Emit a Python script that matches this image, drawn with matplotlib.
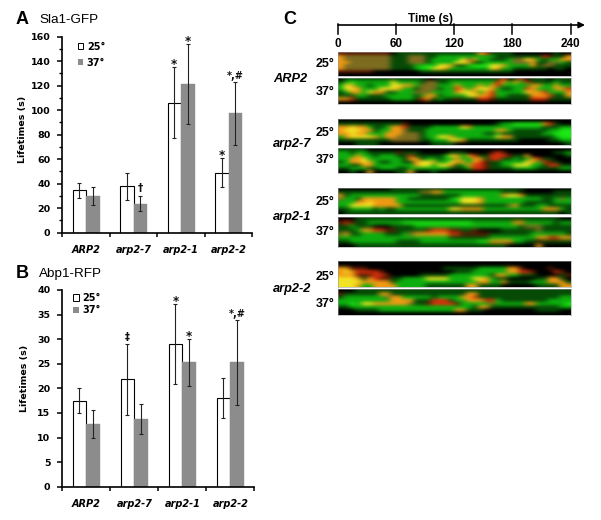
import numpy as np
import matplotlib
matplotlib.use("Agg")
import matplotlib.pyplot as plt
from matplotlib.patches import Patch
from matplotlib.colors import to_rgb

W = 601
H = 520

categories = ["ARP2", "arp2-7", "arp2-1", "arp2-2"]
temps = ["25°", "37°"]

sla_25 = [34.6, 38, 106, 49]
sla_37 = [30, 23.7, 121.4, 97.4]
sla_25_err = [6, 11, 29, 12]
sla_37_err = [7, 6, 33, 26]
sla_marks = [("*", 2, 0), ("*", 2, 1), ("*", 3, 0), ("*,#", 3, 1), ("†", 1, 1)]

abp_25 = [17.5, 21.8, 29, 18]
abp_37 = [12.8, 13.8, 25.3, 25.3]
abp_25_err = [2.6, 7.2, 8.1, 4.1]
abp_37_err = [2.8, 3.1, 4.8, 8.7]
abp_marks = [("*", 2, 0), ("*", 2, 1), ("*,#", 3, 1), ("‡", 1, 0)]

time_ticks = [0, 60, 120, 180, 240]

# kymograph colours, one letter per 6 s
kymo_colors = {"k": "#000000", "d": "#064a06", "g": "#0eae0e", "l": "#1ce814", "m": "#7c6c20",
               "y": "#f2e424", "o": "#f09a14", "r": "#d82e0c", "b": "#5a1905"}

arp2_25 = ["bbbbbbbbbkddddddddddddddorddddkkkkkkkdkk",
           "ommmmmmmmdddmmmddggggggggggddddddddrbddo",
           "ommmmmmmmdddmmmdgggggymoggdddgmmyogdggoo",
           "oommmmmmmdddmmmdggggyyoddgggggmmmoddmmgd",
           "ommmmmmmmddddgglgyyoddglllyyoggggodmmddd",
           "ommmmmmmmddddgllyyogggggggyoggddddddkddk",
           "bbbbbbkkkkkkkkddddddddddddddddkkkkkkkkkk",
           "kkkkkkkkkkkkkkkkkkkkkkkkkkkkkkkkkkkkkkkk"]
arp2_37 = ["kddddddddddddddkkdddddddddddrkdrkdddkddd",
           "dglggggggyggggdmmddggggggggrogogrddddgdd",
           "gyoggdgggyyoogmmmgggogggogorgggggooggogg",
           "gyyogggyyyoggdmmmdggrogoyyogddggrogggoor",
           "dgoogyooddgggmmmggggoyyogorgggggyoorgggo",
           "dddggdddgggggdgoodggggyyoorggddddooorddo",
           "oorddddddggggdrodgddbdddrrbddddddrrrdddd",
           "kkkkkkkkkkkkkkkkkkkkkkkkkkkkkkkkkkkkkkkk"]
arp27_25 = ["kkkkkkkkkkkkkkkkkkkkkkkkkkkkkkkkkkkkkkkk",
            "dddddddddddbkkkkkkkkkkkkkkkdgglllllordkk",
            "ooyoogddgoorddddgggggyoggggggggggggdddgg",
            "oyyyoodggoomdddggggggggggggoogddddddggll",
            "ooyoogggooommmdggggggggggddgdddddddgglll",
            "goyyyyogoommmmdggyyogggggggyoodddddddgll",
            "dddddddddmmmmmddgggyyodddddddddkkkkkddgg",
            "kkkddddkkkkkkkkkddddkkkkkkkkkkkkkkkkkkkd"]
arp27_37 = ["dddddkkkkkkkkkkkkkkkkkkkkkkkkkkkkkkkkkkk",
            "ggdggdddddbdddkkkkkdddkkkkbrbkkkkkkkkddg",
            "gggoggdgggddrdddddgyogorddrrrbddokkkkkkd",
            "ggooyggggggdoodggdggoggoodrrddgdgorddkkk",
            "dgooyogddggddoyyoggyoogorbddggggyogrbdkk",
            "ggddoogggggggoyygyyodgorrbddggyyyggdrrdd",
            "ddgggddgggddgggggggdddgrrbddddggggddddgg",
            "kkdkkokkkkddokkkdkkkkkkkkkkkkkkkkkkkkkkk"]
arp21_25 = ["kkkkkkkkkdddddddddddddddddddddddkkkkkkkk",
            "ddddddddddddddmmooggggggggggdddkkkkkkddd",
            "odggggggggggggdddddddgggggggoyyodddddddd",
            "mggdooooooggdddddddglyyyoggggggggggddgmg",
            "gggooyoooogggggggggggyyyogggggggdddddggg",
            "ggyyyyoooooddddddddddddddddddmodddggdddd",
            "ddggggdgddgggggggggyyooooggggggggggooogd",
            "kdddddddddddddddddddddddddddddddddddddkd"]
arp21_37 = ["kkkdddddddddddddddddddddddddddddddddddkk",
            "brbddggggggllllllllllllgggggggoogggggdgg",
            "ddgdddkkkddddggggggggggggggggggdmmmddddd",
            "dddgoorrbbdddddbrrrbbddbkkkkddddddmddddd",
            "moddggggdddgmoooooorrbbbbbdddddddggggggd",
            "gggggggggggggggggggdddddddggggggggoorroog",
            "ddggggggggddddggggggggggllooooggddkddddd",
            "kkkddddddddddddddddddddddddddkkkkkokkkkk"]
arp22_25 = ["kkkkkkkkkkkkkkkkkkkkkkkkkkkkkkkkkkkkkkkk",
            "kkkkkkkkkkkkkkkkkkkkkkkkkkkkkkkkkkkkkkkk",
            "oobbbkkkkkkkkkkkkkddddddgggggoobkkkkbkkk",
            "oyorrrrbkkkkkkkkkkkkdddggggggoorrbkkkrbk",
            "ooobbbrrbkkkkkdddddgggggggdooggdddkkkkdb",
            "yyyodorbbddggggyyyyggggyyogddkkkkkddoodk",
            "yyyyooooodggggggggggggggooggoddddgggoood",
            "yyyoggoooogggggdddddddooddddkkkkkkddddoo"]
arp22_37 = ["kkkddddddddddddddddddddddddddddddddddddd",
            "bddddddoodddddddddddddooddddddddddddddd",
            "dgggggggmoogggggdggggoorddddddddddddddgg",
            "gggggggggoooodddrrrdggooorrgddddddddgggg",
            "gglgyyoooooomddbrrrrbgggggmgggggoogggggl",
            "ddgggggggggggggggggggggdooddddddddddddgg",
            "kkkddddgggggggggggggoodddkkkkkkkkkddddkk",
            "kkkkkkkkkkkkkkkkkkkkkkkkkkkkkkkkkkkkkkkk"]

kymos = [arp2_25, arp2_37, arp27_25, arp27_37, arp21_25, arp21_37, arp22_25, arp22_37]
kymo_tops = [52, 78, 119, 148, 188, 217, 261, 289]
kymo_bottoms = [76, 104, 145, 173, 214, 247, 287, 315]
temp_label_y = [64, 92, 133, 160, 202, 232, 277, 304]
gene_label_y = [79, 144, 217, 289]

# how far above the error bar each mark sits, in pixels
mark_dy = {"*": 2.5, "*,#": 5.5, "†": 8, "‡": 7}
mark_size = {"*": 8.5, "*,#": 7, "†": 7.5, "‡": 7}


def px_axes(fig, left, top, right, bottom):
    return fig.add_axes([left / W, 1 - bottom / H, (right - left) / W, (bottom - top) / H])


def px_text(fig, x, y, s, **kw):
    kw.setdefault("ha", "left")
    kw.setdefault("va", "center")
    fig.text(x / W, 1 - y / H, s, **kw)


def barPanel(ax, vals_a, vals_b, err_a, err_b, marks, ymax, step, minor):
    x = np.arange(len(categories))
    w = 0.285
    ax.bar(x - w / 2, vals_a, w, color="white", edgecolor="black", linewidth=0.8)
    ax.bar(x + w / 2, vals_b, w, color="#8c8c8c", edgecolor="#8c8c8c", linewidth=0.3)
    ax.errorbar(x - w / 2, vals_a, yerr=err_a, fmt="none", ecolor="#222222", elinewidth=0.8, capsize=1.5, capthick=0.8)
    ax.errorbar(x + w / 2, vals_b, yerr=err_b, fmt="none", ecolor="#222222", elinewidth=0.8, capsize=1.5, capthick=0.8)
    for txt, i, j in marks:
        top = (vals_a[i] + err_a[i]) if j == 0 else (vals_b[i] + err_b[i])
        ax.annotate(txt, (i + (j - 0.5) * w, top), xytext=(0, mark_dy[txt] * 0.72), textcoords="offset points",
                    ha="center", va="center", fontsize=mark_size[txt], fontweight="bold", color="#111111",
                    annotation_clip=False)
    ax.set_xlim(-0.5, 3.5)
    ax.set_ylim(0, ymax)
    ax.set_yticks(np.arange(0, ymax + 1, step))
    if minor:
        ax.set_yticks(np.arange(0, ymax + 1, minor), minor=True)
    ax.set_xticks(np.arange(-0.5, 4, 1))
    ax.set_xticklabels([])
    ax.set_xticks(x, minor=True)
    ax.set_xticklabels(categories, minor=True, fontsize=7, fontweight="bold", style="italic")
    ax.tick_params(axis="x", which="minor", length=0, pad=9)
    ax.tick_params(axis="x", which="major", length=3, width=1.1)
    ax.tick_params(axis="y", which="major", length=3.5, width=1.1, labelsize=6.8, pad=5)
    ax.tick_params(axis="y", which="minor", length=2, width=1)
    for lab in ax.get_yticklabels():
        lab.set_fontweight("bold")
    for s in ["top", "right"]:
        ax.spines[s].set_visible(False)
    for s in ["left", "bottom"]:
        ax.spines[s].set_linewidth(1.2)
    ax.patch.set_alpha(0)


fig = plt.figure(figsize=(W / 100, H / 100), dpi=100, facecolor="white")

# panel A
axA = px_axes(fig, 62.3, 36.7, 252.3, 232.7)
barPanel(axA, sla_25, sla_37, sla_25_err, sla_37_err, sla_marks, 160, 20, 10)
# panel B
axB = px_axes(fig, 62.3, 290, 254.3, 486.7)
barPanel(axB, abp_25, abp_37, abp_25_err, abp_37_err, abp_marks, 40, 5, None)

handles = [Patch(facecolor="white", edgecolor="black", linewidth=0.7), Patch(facecolor="#8c8c8c")]
axA.legend(handles, temps, loc="upper left", bbox_to_anchor=(0.055, 1.0), frameon=False,
           handlelength=0.6, handleheight=0.6, handletextpad=0.35, labelspacing=0.62, borderpad=0,
           prop={"size": 7, "weight": "bold"})
axB.legend(handles, temps, loc="upper left", bbox_to_anchor=(0.03, 1.01), frameon=False,
           handlelength=0.6, handleheight=0.6, handletextpad=0.35, labelspacing=0.22, borderpad=0,
           prop={"size": 7, "weight": "bold"})

px_text(fig, 22, 129, "Lifetimes (s)", rotation=90, ha="center", fontsize=6.8, fontweight="bold")
px_text(fig, 25, 378, "Lifetimes (s)", rotation=90, ha="center", fontsize=6.8, fontweight="bold")

sans = "Liberation Sans"
px_text(fig, 15.5, 20, "A", fontsize=13, fontweight="bold", family=sans)
px_text(fig, 15.5, 273, "B", fontsize=13, fontweight="bold", family=sans)
px_text(fig, 283, 20, "C", fontsize=13, fontweight="bold", family=sans)
px_text(fig, 39, 20, "Sla1-GFP", fontsize=9.7, family=sans)
px_text(fig, 39, 274, "Abp1-RFP", fontsize=9.7, family=sans)

# panel C kymographs
for rows, top, bottom in zip(kymos, kymo_tops, kymo_bottoms):
    ax = px_axes(fig, 338, top, 570.5, bottom)
    img = np.array([[to_rgb(kymo_colors[c]) for c in r.ljust(40, r[-1])[:40]] for r in rows])
    ax.imshow(img, aspect="auto", interpolation="bicubic", extent=[0, 240, 0, 1])
    ax.set_xticks([])
    ax.set_yticks([])
    for s in ax.spines.values():
        s.set_color("#999999")
        s.set_linewidth(0.4)

for y, i in zip(temp_label_y, range(8)):
    px_text(fig, 316, y, temps[i % 2], fontsize=9, fontweight="bold", family=sans)
for y, name in zip(gene_label_y, categories):
    px_text(fig, 273, y, name, fontsize=9.2, fontweight="bold", style="italic", family=sans)

# time axis
axT = px_axes(fig, 338, 24, 570.5, 34)
axT.set_xlim(0, 240)
axT.set_ylim(0, 1)
axT.set_xticks(time_ticks)
axT.set_xticklabels(time_ticks, fontsize=8.5, fontweight="bold", family=sans)
axT.tick_params(axis="x", direction="in", length=0, pad=3)
axT.set_yticks([])
for t in time_ticks:
    axT.plot([t, t], [0, 1], color="black", linewidth=1.1, clip_on=False)
for s in axT.spines.values():
    s.set_visible(False)
axT.patch.set_alpha(0)
axT.annotate("", xy=(585 / W, 1 - 25 / H), xytext=(338 / W, 1 - 25 / H), xycoords="figure fraction",
             textcoords="figure fraction",
             arrowprops=dict(arrowstyle="-|>", color="black", lw=1.2, mutation_scale=9, shrinkA=0, shrinkB=0))
px_text(fig, 431, 19, "Time (s)", ha="center", fontsize=8.5, fontweight="bold", family=sans)

plt.savefig("out.png", dpi=100)
